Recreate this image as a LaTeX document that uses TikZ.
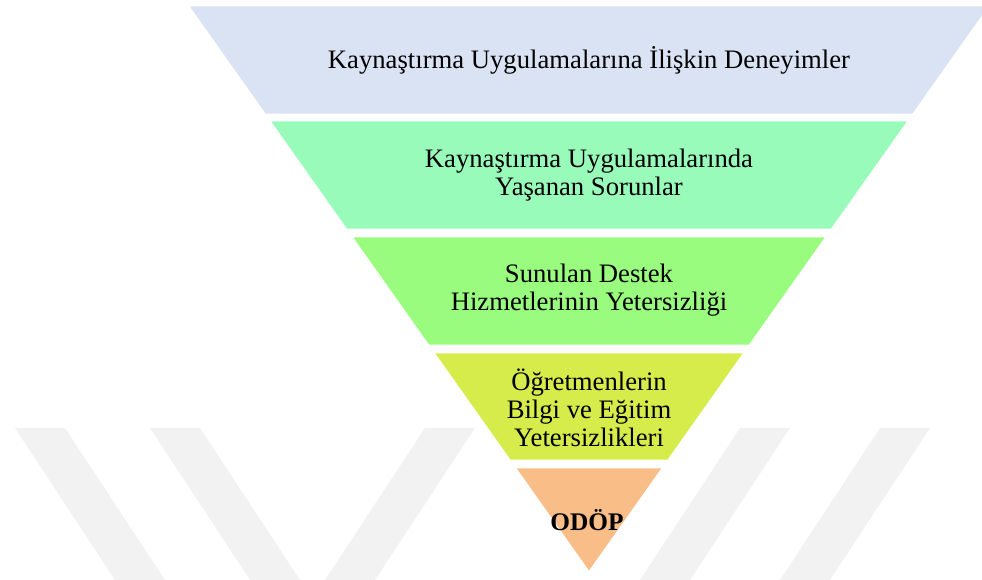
\documentclass[tikz,border=0pt]{standalone}
\usepackage{fontspec}
\setmainfont{Liberation Serif}
\definecolor{layA}{HTML}{DAE3F3}
\definecolor{layB}{HTML}{99FBB9}
\definecolor{layC}{HTML}{99FC7E}
\definecolor{layD}{HTML}{D5EC4A}
\definecolor{layE}{HTML}{F9BD88}
\definecolor{wmgray}{HTML}{F2F2F2}
\newcommand\pyrlayer[4]{%
  \filldraw[layer, fill=#3] ({589-0.7077*(573-#1)},#1) -- ({589+0.7077*(573-#1)},#1)
    -- ({589+0.7077*(573-#2)},#2) -- ({589-0.7077*(573-#2)},#2) -- cycle;
  \coordinate (#4) at (589,{(#1+#2)/2});}
\begin{document}
\begin{tikzpicture}[x=0.75pt,y=-0.75pt,
  txt/.style={align=center, font=\fontsize{20}{21}\selectfont, inner sep=0pt, text=black},
  wm/.style={fill=wmgray},
  layer/.style={draw=white, line width=2pt}]
\useasboundingbox (0,0) rectangle (982,580);
% faint watermark
\begin{scope}
\clip (0,428) rectangle (982,580);
\fill[wm] (15,428) -- (65,428) -- (165,580) -- (115,580) -- cycle;
\fill[wm] (150,428) -- (200,428) -- (300,580) -- (250,580) -- cycle;
\fill[wm] (425,428) -- (475,428) -- (375,580) -- (325,580) -- cycle;
\fill[wm] (740,428) -- (790,428) -- (690,580) -- (640,580) -- cycle;
\fill[wm] (880,428) -- (930,428) -- (830,580) -- (780,580) -- cycle;
\end{scope}
% pyramid layers
\pyrlayer{5}{115}{layA}{c1}
\pyrlayer{120}{230}{layB}{c2}
\pyrlayer{236}{346}{layC}{c3}
\pyrlayer{352}{461}{layD}{c4}
\pyrlayer{467}{573}{layE}{c5}
\node[txt] (t1) at (589,60) {Kaynaştırma Uygulamalarına İlişkin Deneyimler};
\node[txt] (t2) at (589,175) {Kaynaştırma Uygulamalarında\\Yaşanan Sorunlar};
\node[txt] (t3) at (589,290) {Sunulan Destek\\Hizmetlerinin Yetersizliği};
\node[txt] (t4) at (589,408) {Öğretmenlerin\\Bilgi ve Eğitim\\Yetersizlikleri};
\node[txt, font=\fontsize{19}{20}\selectfont\bfseries] (t5) at (587,520) {ODÖP};
\end{tikzpicture}
\end{document}
